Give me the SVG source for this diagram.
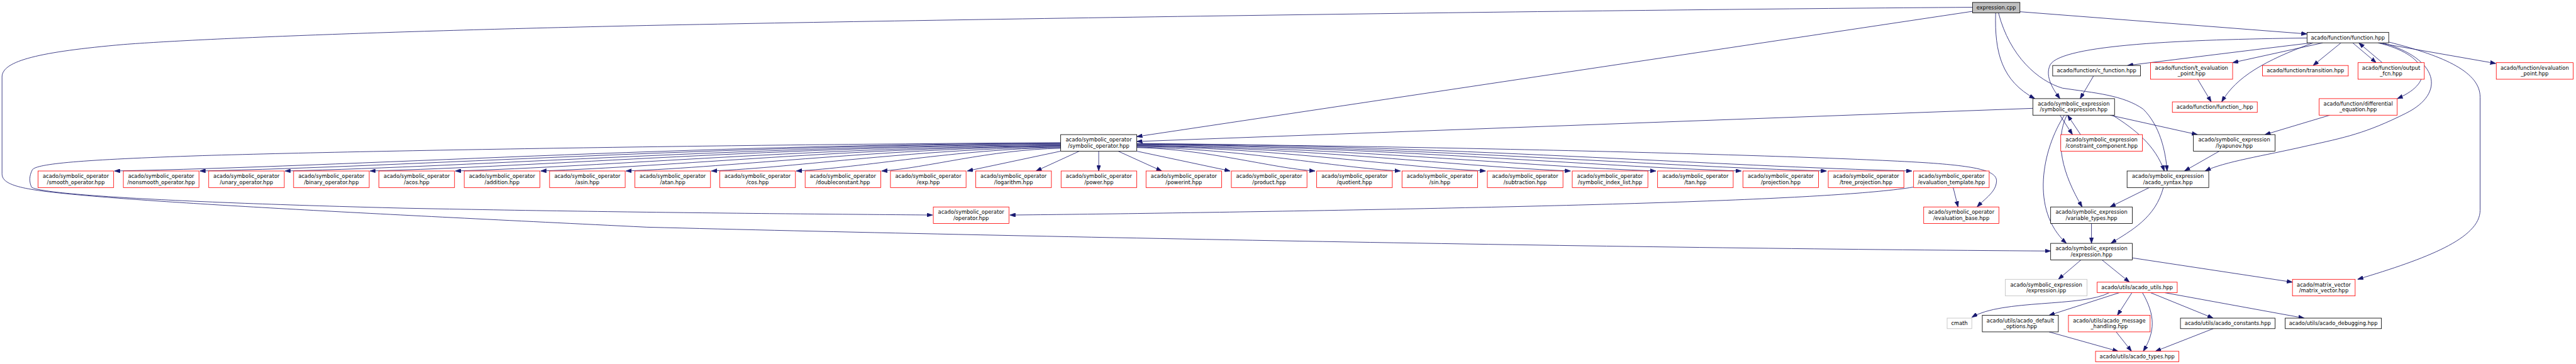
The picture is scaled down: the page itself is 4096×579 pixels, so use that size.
<svg xmlns="http://www.w3.org/2000/svg" width="4096" height="579" viewBox="0 0 4096 579">
<style>
.n rect{fill:#fff;stroke-width:1.3}
.r rect{stroke:#ff0000}
.k rect{stroke:#000}
.g rect{stroke:#bfbfbf}
.gc rect{fill:#bfbfbf;stroke:#000}
text{font-family:"DejaVu Sans","Liberation Sans",Arial,sans-serif;font-size:13px;text-anchor:middle;fill:#000}
#edges path{fill:none;stroke:#191970;stroke-width:1.3;marker-end:url(#a)}
</style>
<defs>
<marker id="a" viewBox="0 0 14 10" refX="14" refY="5" markerWidth="14" markerHeight="10" markerUnits="userSpaceOnUse" orient="auto"><path d="M0,0L14,5L0,10z" fill="#191970" stroke="#191970" stroke-width="1"/></marker>
</defs>
<rect width="4096" height="579" fill="#fff"/>
<g transform="scale(0.643)">
<g id="edges">
<path d="M4995,29 L5705,84"/>
<path d="M4878,28 L2811,338"/>
<path d="M4878,18 C4000,24 2500,45 1600,63 C1000,76 500,95 306,110 C100,128 5,150 5,190 L5,430 C5,460 60,470 204,483 C450,505 900,528 1600,562 C2500,585 4000,614 5071,621"/>
<path d="M4935,32 C4932,130 4950,200 5032,244"/>
<path d="M4942,32 C4970,140 5040,200 5100,218 C5180,230 5250,235 5300,270 C5340,310 5355,370 5359,423"/>
<path d="M5705,94 C5400,98 5100,110 5070,160 C5055,190 5080,225 5094,244"/>
<path d="M5716,106 Q5500,132 5261,162"/>
<path d="M5744,106 L5521,155"/>
<path d="M5720,106 C5600,150 5530,190 5494,252"/>
<path d="M5789,106 L5720,162"/>
<path d="M5818,106 L5876,155"/>
<path d="M5891,155 L5833,106"/>
<path d="M5881,106 L6172,157"/>
<path d="M5881,106 C6000,135 6030,200 5928,244"/>
<path d="M5892,106 C6030,145 6050,230 5950,280 C5850,330 5800,340 5700,362 C5600,385 5500,400 5453,423"/>
<path d="M5907,104 C6050,140 6133,180 6133,240 L6133,520 C6133,590 6000,640 5830,691"/>
<path d="M5177,188 L5144,244"/>
<path d="M5434,195 L5468,252"/>
<path d="M5761,285 L5601,333"/>
<path d="M5027,268 L2811,350"/>
<path d="M5094,285 L5125,333"/>
<path d="M5145,333 L5113,285"/>
<path d="M5218,285 L5434,333"/>
<path d="M5224,285 C5280,320 5330,360 5352,423"/>
<path d="M5111,285 C5080,350 5100,430 5149,512"/>
<path d="M5105,285 C5050,370 5020,520 5110,602"/>
<path d="M5488,374 L5402,423"/>
<path d="M5317,463 L5218,512"/>
<path d="M5350,463 C5330,540 5270,570 5220,602"/>
<path d="M5172,553 L5172,602"/>
<path d="M5146,643 L5090,691"/>
<path d="M5198,643 L5266,698"/>
<path d="M5273,638 L5669,698"/>
<path d="M5216,724 C5150,760 4950,740 4876,785"/>
<path d="M5241,724 L5067,780"/>
<path d="M5272,724 L5236,780"/>
<path d="M5298,724 C5330,780 5330,820 5300,869"/>
<path d="M5318,724 L5473,787"/>
<path d="M5353,724 L5698,787"/>
<path d="M5067,821 L5238,869"/>
<path d="M5233,821 L5271,869"/>
<path d="M5473,813 L5330,869"/>
<path d="M4830,464 L4842,512"/>
<path d="M4731,463 C4550,492 4000,508 3200,522 C2900,527 2700,530 2497,532"/>
<path d="M2623,353 C2000,356 1000,370 500,385 C200,395 90,405 80,420 C72,435 72,450 78,463 C100,480 400,500 1000,515 C1600,527 2100,530 2306,532"/>
<path d="M2811,356 C3500,360 4500,385 4769,403 C4900,412 4940,425 4937,450 C4935,475 4910,490 4889,512"/>
<path d="M2623,354 C1687,358 868,412 283,423"/>
<path d="M2623,355 C1771,359 1026,412 494,423"/>
<path d="M2623,357 C1856,361 1185,412 705,423"/>
<path d="M2623,358 C1940,362 1342,412 915,423"/>
<path d="M2623,360 C2024,364 1500,412 1126,423"/>
<path d="M2623,361 C2109,365 1659,412 1337,423"/>
<path d="M2623,362 C2193,366 1817,413 1548,423"/>
<path d="M2623,364 C2277,367 1975,414 1759,423"/>
<path d="M2623,365 C2361,369 2133,415 1969,423"/>
<path d="M2623,367 C2446,370 2291,416 2180,423"/>
<path d="M2623,374 L2392,423"/>
<path d="M2669,374 L2562,423"/>
<path d="M2717,374 L2717,423"/>
<path d="M2765,374 L2873,423"/>
<path d="M2811,374 L3042,423"/>
<path d="M2811,365 C2988,369 3143,416 3252,423"/>
<path d="M2811,364 C3073,368 3302,415 3463,423"/>
<path d="M2811,362 C3157,366 3460,414 3674,423"/>
<path d="M2811,361 C3241,365 3617,413 3884,423"/>
<path d="M2811,360 C3325,364 3776,412 4095,423"/>
<path d="M2811,358 C3410,362 3934,412 4306,423"/>
<path d="M2811,357 C3494,361 4092,412 4517,423"/>
<path d="M2811,355 C3579,359 4250,412 4728,423"/>
</g>
<g id="n_expcpp" class="n gc"><rect x="4878" y="6" width="117" height="26"/><text x="4936.5" y="23.5">expression.cpp</text></g>
<g id="n_function" class="n k"><rect x="5705" y="80" width="202" height="26"/><text x="5806" y="97.5">acado/function/function.hpp</text></g>
<g id="n_cfunction" class="n k"><rect x="5076" y="162" width="217" height="26"/><text x="5184.5" y="179.5">acado/function/c_function.hpp</text></g>
<g id="n_tevalpoint" class="n r"><rect x="5318" y="155" width="203" height="41"/><text x="5419.5" y="172.5">acado/function/t_evaluation</text><text x="5419.5" y="187">_point.hpp</text></g>
<g id="n_transition" class="n r"><rect x="5595" y="162" width="212" height="26"/><text x="5701" y="179.5">acado/function/transition.hpp</text></g>
<g id="n_outputfcn" class="n r"><rect x="5831" y="155" width="164" height="41"/><text x="5913" y="172.5">acado/function/output</text><text x="5913" y="187">_fcn.hpp</text></g>
<g id="n_evalpoint" class="n r"><rect x="6173" y="155" width="190" height="41"/><text x="6268" y="172.5">acado/function/evaluation</text><text x="6268" y="187">_point.hpp</text></g>
<g id="n_symexpr" class="n k"><rect x="5027" y="244" width="202" height="41"/><text x="5128" y="261.5">acado/symbolic_expression</text><text x="5128" y="276">/symbolic_expression.hpp</text></g>
<g id="n_function_" class="n r"><rect x="5372" y="252" width="210" height="26"/><text x="5477" y="269.5">acado/function/function_.hpp</text></g>
<g id="n_diffeq" class="n r"><rect x="5735" y="244" width="193" height="41"/><text x="5831.5" y="261.5">acado/function/differential</text><text x="5831.5" y="276">_equation.hpp</text></g>
<g id="n_constraint" class="n r"><rect x="5096" y="333" width="202" height="41"/><text x="5197" y="350.5">acado/symbolic_expression</text><text x="5197" y="365">/constraint_component.hpp</text></g>
<g id="n_lyapunov" class="n k"><rect x="5424" y="333" width="202" height="41"/><text x="5525" y="350.5">acado/symbolic_expression</text><text x="5525" y="365">/lyapunov.hpp</text></g>
<g id="n_symop" class="n k"><rect x="2623" y="333" width="188" height="41"/><text x="2717" y="350.5">acado/symbolic_operator</text><text x="2717" y="365">/symbolic_operator.hpp</text></g>
<g id="n_syntax" class="n k"><rect x="5260" y="423" width="202" height="41"/><text x="5361" y="440.5">acado/symbolic_expression</text><text x="5361" y="455">/acado_syntax.hpp</text></g>
<g id="n_op0" class="n r"><rect x="94" y="423" width="187" height="41"/><text x="187.5" y="440.5">acado/symbolic_operator</text><text x="187.5" y="455">/smooth_operator.hpp</text></g>
<g id="n_op1" class="n r"><rect x="305" y="423" width="187" height="41"/><text x="398.5" y="440.5">acado/symbolic_operator</text><text x="398.5" y="455">/nonsmooth_operator.hpp</text></g>
<g id="n_op2" class="n r"><rect x="516" y="423" width="187" height="41"/><text x="609.5" y="440.5">acado/symbolic_operator</text><text x="609.5" y="455">/unary_operator.hpp</text></g>
<g id="n_op3" class="n r"><rect x="726" y="423" width="187" height="41"/><text x="819.5" y="440.5">acado/symbolic_operator</text><text x="819.5" y="455">/binary_operator.hpp</text></g>
<g id="n_op4" class="n r"><rect x="937" y="423" width="187" height="41"/><text x="1030.5" y="440.5">acado/symbolic_operator</text><text x="1030.5" y="455">/acos.hpp</text></g>
<g id="n_op5" class="n r"><rect x="1148" y="423" width="187" height="41"/><text x="1241.5" y="440.5">acado/symbolic_operator</text><text x="1241.5" y="455">/addition.hpp</text></g>
<g id="n_op6" class="n r"><rect x="1359" y="423" width="187" height="41"/><text x="1452.5" y="440.5">acado/symbolic_operator</text><text x="1452.5" y="455">/asin.hpp</text></g>
<g id="n_op7" class="n r"><rect x="1570" y="423" width="187" height="41"/><text x="1663.5" y="440.5">acado/symbolic_operator</text><text x="1663.5" y="455">/atan.hpp</text></g>
<g id="n_op8" class="n r"><rect x="1780" y="423" width="187" height="41"/><text x="1873.5" y="440.5">acado/symbolic_operator</text><text x="1873.5" y="455">/cos.hpp</text></g>
<g id="n_op9" class="n r"><rect x="1991" y="423" width="187" height="41"/><text x="2084.5" y="440.5">acado/symbolic_operator</text><text x="2084.5" y="455">/doubleconstant.hpp</text></g>
<g id="n_op10" class="n r"><rect x="2202" y="423" width="187" height="41"/><text x="2295.5" y="440.5">acado/symbolic_operator</text><text x="2295.5" y="455">/exp.hpp</text></g>
<g id="n_op11" class="n r"><rect x="2413" y="423" width="187" height="41"/><text x="2506.5" y="440.5">acado/symbolic_operator</text><text x="2506.5" y="455">/logarithm.hpp</text></g>
<g id="n_op12" class="n r"><rect x="2624" y="423" width="187" height="41"/><text x="2717.5" y="440.5">acado/symbolic_operator</text><text x="2717.5" y="455">/power.hpp</text></g>
<g id="n_op13" class="n r"><rect x="2834" y="423" width="187" height="41"/><text x="2927.5" y="440.5">acado/symbolic_operator</text><text x="2927.5" y="455">/powerint.hpp</text></g>
<g id="n_op14" class="n r"><rect x="3045" y="423" width="187" height="41"/><text x="3138.5" y="440.5">acado/symbolic_operator</text><text x="3138.5" y="455">/product.hpp</text></g>
<g id="n_op15" class="n r"><rect x="3256" y="423" width="187" height="41"/><text x="3349.5" y="440.5">acado/symbolic_operator</text><text x="3349.5" y="455">/quotient.hpp</text></g>
<g id="n_op16" class="n r"><rect x="3467" y="423" width="187" height="41"/><text x="3560.5" y="440.5">acado/symbolic_operator</text><text x="3560.5" y="455">/sin.hpp</text></g>
<g id="n_op17" class="n r"><rect x="3678" y="423" width="187" height="41"/><text x="3771.5" y="440.5">acado/symbolic_operator</text><text x="3771.5" y="455">/subtraction.hpp</text></g>
<g id="n_op18" class="n r"><rect x="3888" y="423" width="187" height="41"/><text x="3981.5" y="440.5">acado/symbolic_operator</text><text x="3981.5" y="455">/symbolic_index_list.hpp</text></g>
<g id="n_op19" class="n r"><rect x="4099" y="423" width="187" height="41"/><text x="4192.5" y="440.5">acado/symbolic_operator</text><text x="4192.5" y="455">/tan.hpp</text></g>
<g id="n_op20" class="n r"><rect x="4310" y="423" width="187" height="41"/><text x="4403.5" y="440.5">acado/symbolic_operator</text><text x="4403.5" y="455">/projection.hpp</text></g>
<g id="n_op21" class="n r"><rect x="4521" y="423" width="187" height="41"/><text x="4614.5" y="440.5">acado/symbolic_operator</text><text x="4614.5" y="455">/tree_projection.hpp</text></g>
<g id="n_op22" class="n r"><rect x="4732" y="423" width="187" height="41"/><text x="4825.5" y="440.5">acado/symbolic_operator</text><text x="4825.5" y="455">/evaluation_template.hpp</text></g>
<g id="n_operator" class="n r"><rect x="2308" y="512" width="187" height="41"/><text x="2401.5" y="529.5">acado/symbolic_operator</text><text x="2401.5" y="544">/operator.hpp</text></g>
<g id="n_evalbase" class="n r"><rect x="4757" y="512" width="186" height="41"/><text x="4850" y="529.5">acado/symbolic_operator</text><text x="4850" y="544">/evaluation_base.hpp</text></g>
<g id="n_vartypes" class="n k"><rect x="5071" y="512" width="202" height="41"/><text x="5172" y="529.5">acado/symbolic_expression</text><text x="5172" y="544">/variable_types.hpp</text></g>
<g id="n_exprhpp" class="n k"><rect x="5071" y="602" width="202" height="41"/><text x="5172" y="619.5">acado/symbolic_expression</text><text x="5172" y="634">/expression.hpp</text></g>
<g id="n_expripp" class="n g"><rect x="4959" y="691" width="202" height="41"/><text x="5060" y="708.5">acado/symbolic_expression</text><text x="5060" y="723">/expression.ipp</text></g>
<g id="n_utils" class="n r"><rect x="5186" y="698" width="198" height="26"/><text x="5285" y="715.5">acado/utils/acado_utils.hpp</text></g>
<g id="n_matvec" class="n r"><rect x="5669" y="691" width="155" height="41"/><text x="5746.5" y="708.5">acado/matrix_vector</text><text x="5746.5" y="723">/matrix_vector.hpp</text></g>
<g id="n_cmath" class="n g"><rect x="4815" y="787" width="61" height="26"/><text x="4845.5" y="804.5">cmath</text></g>
<g id="n_defopts" class="n k"><rect x="4902" y="780" width="188" height="41"/><text x="4996" y="797.5">acado/utils/acado_default</text><text x="4996" y="812">_options.hpp</text></g>
<g id="n_msg" class="n r"><rect x="5115" y="780" width="202" height="41"/><text x="5216" y="797.5">acado/utils/acado_message</text><text x="5216" y="812">_handling.hpp</text></g>
<g id="n_constants" class="n k"><rect x="5392" y="787" width="234" height="26"/><text x="5509" y="804.5">acado/utils/acado_constants.hpp</text></g>
<g id="n_debugging" class="n k"><rect x="5651" y="787" width="238" height="26"/><text x="5770" y="804.5">acado/utils/acado_debugging.hpp</text></g>
<g id="n_types" class="n r"><rect x="5182" y="869" width="206" height="26"/><text x="5285" y="886.5">acado/utils/acado_types.hpp</text></g>
</g>
</svg>
